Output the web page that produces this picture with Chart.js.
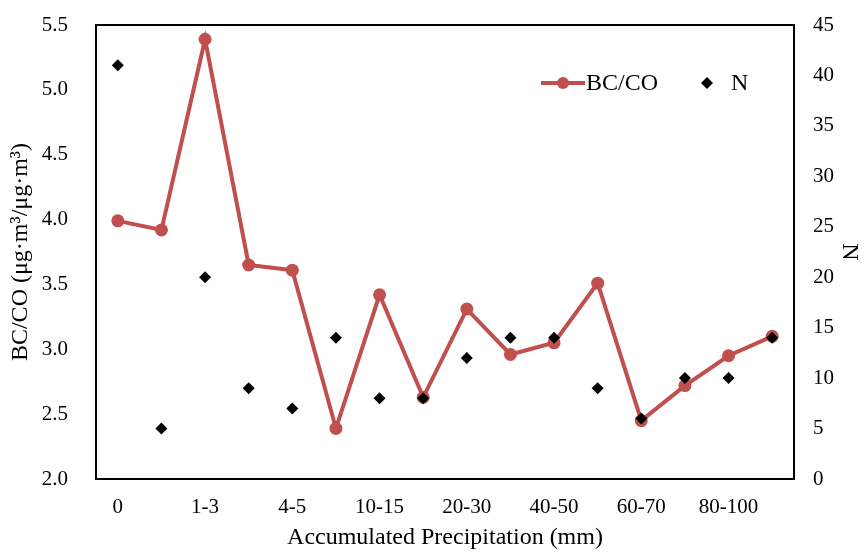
<!DOCTYPE html>
<html>
<head>
<meta charset="utf-8">
<script src="https://cdn.jsdelivr.net/npm/chart.js@4.4.1/dist/chart.umd.min.js"></script>
<style>
  html, body { margin: 0; padding: 0; background: #fff; }
  #wrap { width: 864px; height: 552px; }
</style>
</head>
<body>
<div id="wrap"><canvas id="myChart" width="864" height="552"></canvas></div>
<script>
// data
var categories = ["0", "0-1", "1-3", "3-4", "4-5", "5-10", "10-15", "15-20",
                  "20-30", "30-40", "40-50", "50-60", "60-70", "70-80", "80-100", ">100"];
var bcco = [3.99, 3.92, 5.39, 3.65, 3.61, 2.39, 3.42, 2.63,
            3.31, 2.96, 3.05, 3.51, 2.45, 2.72, 2.95, 3.10];
var nCount = [41, 5, 20, 9, 7, 14, 8, 8, 12, 14, 14, 9, 6, 10, 10, 14];
var leftTicks = [2.0, 5.5, 0.5];   // min, max, step
var rightTicks = [0, 45, 5];

var red = "#C0504D";
var serif = "'Liberation Serif', 'Times New Roman', serif";

// plot frame + legend drawn inside the plot area
var framePlugin = {
  id: "frame",
  afterDatasetsDraw: function(chart) {
    var a = chart.chartArea, ctx = chart.ctx;
    ctx.save();
    ctx.strokeStyle = "#000";
    ctx.lineWidth = 2;
    ctx.strokeRect(a.left, a.top, a.right - a.left, a.bottom - a.top);

    // legend
    var y = 83;
    ctx.strokeStyle = red;
    ctx.lineWidth = 4;
    ctx.beginPath();
    ctx.moveTo(541, y);
    ctx.lineTo(585, y);
    ctx.stroke();
    ctx.fillStyle = red;
    ctx.beginPath();
    ctx.arc(563, y, 6, 0, Math.PI * 2);
    ctx.fill();

    ctx.fillStyle = "#000";
    ctx.beginPath();
    ctx.moveTo(707, y - 6);
    ctx.lineTo(713, y);
    ctx.lineTo(707, y + 6);
    ctx.lineTo(701, y);
    ctx.closePath();
    ctx.fill();

    ctx.font = "24px " + serif;
    ctx.textBaseline = "middle";
    ctx.textAlign = "left";
    ctx.fillText("BC/CO", 586, y + 1);
    ctx.fillText("N", 731, y + 1);
    ctx.restore();
  }
};

// no extra room for half-labels, the frame is fixed by layout padding
function noPad(s) {
  s.paddingTop = 0;
  s.paddingBottom = 0;
  s.paddingLeft = 0;
  s.paddingRight = 0;
}

var ctx = document.getElementById("myChart");
var chart = new Chart(ctx, {
  type: "line",
  data: {
    labels: categories,
    datasets: [
      {
        label: "BC/CO",
        data: bcco,
        yAxisID: "y",
        borderColor: red,
        backgroundColor: red,
        borderWidth: 4,
        pointRadius: 6.5,
        pointHoverRadius: 6.5,
        pointBorderWidth: 0,
        lineTension: 0,
        fill: false,
        order: 2
      },
      {
        label: "N",
        data: nCount,
        yAxisID: "y2",
        showLine: false,
        pointStyle: "rectRot",
        pointRadius: 6,
        pointHoverRadius: 6,
        pointBorderWidth: 0,
        backgroundColor: "#000",
        borderColor: "#000",
        order: 1
      }
    ]
  },
  options: {
    responsive: false,
    animation: false,
    devicePixelRatio: 1,
    layout: { padding: { top: 25, left: 0, right: 0, bottom: 0 } },
    plugins: {
      legend: { display: false },
      tooltip: { enabled: false }
    },
    scales: {
      x: {
        type: "category",
        offset: true,
        grid: { display: false, drawTicks: false },
        border: { display: false },
        ticks: {
          autoSkip: false,
          maxRotation: 0,
          padding: 16,
          color: "#000",
          font: { family: serif, size: 21 },
          callback: function(v, i) { return i % 2 === 0 ? categories[i] : ""; }
        },
        title: {
          display: true,
          text: "Accumulated Precipitation (mm)",
          color: "#000",
          font: { family: serif, size: 24 },
          padding: { top: 0, bottom: 0 }
        },
        afterFit: function(s) { s.height = 552 - 479; noPad(s); }
      },
      y: {
        position: "left",
        min: leftTicks[0],
        max: leftTicks[1],
        grid: { display: false, drawTicks: false },
        border: { display: false },
        ticks: {
          stepSize: leftTicks[2],
          padding: 28,
          color: "#000",
          font: { family: serif, size: 21 },
          callback: function(v) { return Number(v).toFixed(1); }
        },
        title: {
          display: true,
          text: "BC/CO (\u03bcg\u00b7m\u00b3/\u03bcg\u00b7m\u00b3)",
          color: "#000",
          font: { family: serif, size: 24 },
          padding: { top: 6, bottom: 0 }
        },
        afterFit: function(s) { s.width = 96; noPad(s); }
      },
      y2: {
        position: "right",
        min: rightTicks[0],
        max: rightTicks[1],
        grid: { display: false, drawTicks: false },
        border: { display: false },
        ticks: {
          stepSize: rightTicks[2],
          padding: 19,
          color: "#000",
          font: { family: serif, size: 21 }
        },
        title: {
          display: true,
          text: "N",
          color: "#000",
          font: { family: serif, size: 24 },
          padding: { top: 0, bottom: 0 }
        },
        afterFit: function(s) { s.width = 864 - 794; noPad(s); }
      }
    }
  },
  plugins: [framePlugin]
});
</script>
</body>
</html>
